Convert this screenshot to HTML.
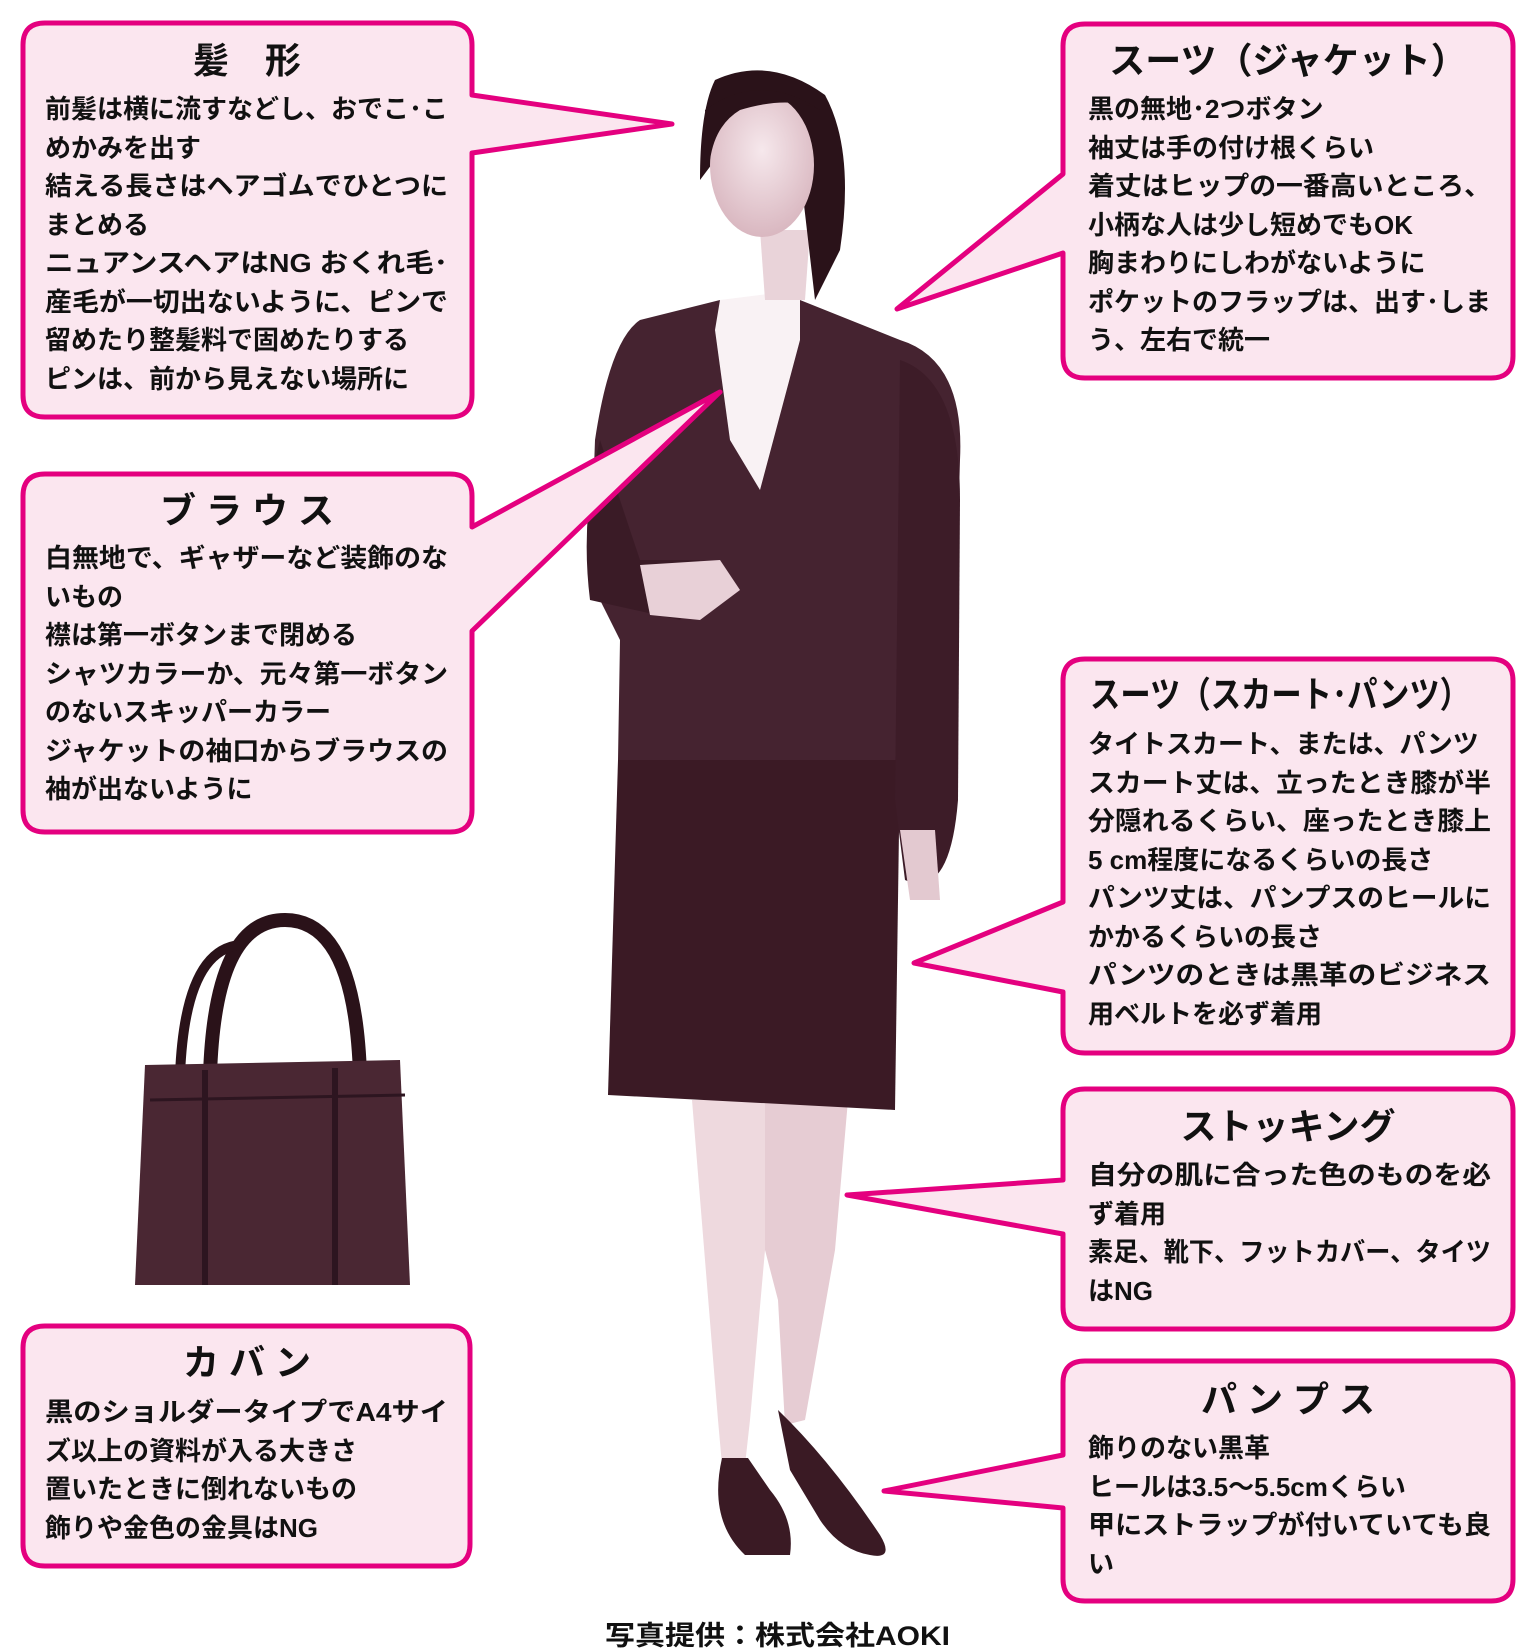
<!DOCTYPE html>
<html><head><meta charset="utf-8"><style>
html,body{margin:0;padding:0;background:#fff;}
svg{display:block;}
.b{fill:#fbe6ef;stroke:#e4007f;stroke-width:5;stroke-linejoin:round;}
.t{font-family:"Liberation Sans","Noto Sans CJK JP",sans-serif;font-weight:bold;fill:#111;}
.h{font-size:36px;}
.l{font-size:26px;}
</style></head><body>
<svg width="1530" height="1650" viewBox="0 0 1530 1650" xmlns="http://www.w3.org/2000/svg">
<defs>
<radialGradient id="sk" cx="50%" cy="40%" r="60%"><stop offset="0" stop-color="#f6e8ec"/><stop offset="1" stop-color="#d9b7c0"/></radialGradient>
</defs>
<!-- legs -->
<path d="M692 1100 L770 1100 L765 1250 L750 1420 L745 1465 L722 1465 L718 1420 L705 1260 Z" fill="#eed9de"/>
<path d="M765 1100 L848 1100 L835 1250 L805 1420 L785 1425 L778 1300 L765 1250 Z" fill="#e6ccd3"/>
<!-- shoes -->
<path d="M722 1458 Q708 1520 745 1555 L790 1555 Q795 1520 770 1490 L748 1458 Z" fill="#3a1a24"/>
<path d="M778 1410 Q830 1460 880 1535 Q895 1560 870 1555 Q840 1550 820 1520 L790 1470 Z" fill="#3a1a24"/>
<!-- skirt -->
<path d="M618 760 L900 760 L895 1110 L608 1095 Z" fill="#3b1a25"/>
<!-- jacket -->
<path d="M640 320 L720 300 L760 450 L800 300 L900 340 Q965 360 960 460 L950 800 L905 800 L900 760 L618 760 L620 640 L590 580 L595 440 Q610 340 640 320 Z" fill="#452330"/>
<path d="M600 440 Q580 520 590 600 L680 620 L700 560 L640 560 Z" fill="#3a1b26"/>
<path d="M640 565 L720 560 L740 590 L700 620 L650 615 Z" fill="#e8d0d7"/>
<path d="M900 360 Q960 380 960 500 L958 800 Q950 900 905 880 L895 800 Z" fill="#3d1c28"/>
<path d="M900 830 L935 830 L940 900 L910 900 Z" fill="#e3c9d0"/>
<!-- blouse -->
<path d="M720 300 L800 290 L800 340 L760 490 L730 440 L715 330 Z" fill="#f9f2f4"/>
<!-- neck & face -->
<path d="M760 230 L810 230 L805 300 L765 300 Z" fill="#e9d3d9"/>
<path d="M715 80 Q770 55 825 95 Q855 150 840 250 L815 300 L800 170 Q760 120 730 140 L700 180 Q700 110 715 80 Z" fill="#2a1219"/>
<ellipse cx="762" cy="165" rx="52" ry="72" fill="url(#sk)"/>
<path d="M705 110 Q760 70 820 110 Q790 95 740 110 Q715 125 710 160 Z" fill="#2a1219"/>
<!-- bag -->
<path d="M210 1075 Q215 920 285 920 Q355 920 360 1075" fill="none" stroke="#2a1219" stroke-width="14"/>
<path d="M180 1075 Q185 950 240 945" fill="none" stroke="#2a1219" stroke-width="10"/>
<path d="M145 1065 L400 1060 L410 1285 L135 1285 Z" fill="#4a2733"/>
<path d="M150 1100 L405 1095" stroke="#2d1520" stroke-width="3"/>
<path d="M205 1070 L205 1285 M335 1068 L335 1285" stroke="#2d1520" stroke-width="6"/>

<!-- boxes -->
<path class="b" d="M45 23 H450 Q472 23 472 45 V95 L672 124 L472 153 V395 Q472 417 450 417 H45 Q23 417 23 395 V45 Q23 23 45 23 Z"/>
<path class="b" d="M45 474 H450 Q472 474 472 496 V527 L720 392 L472 631 V810 Q472 832 450 832 H45 Q23 832 23 810 V496 Q23 474 45 474 Z"/>
<path class="b" d="M45 1326 H448 Q470 1326 470 1348 V1544 Q470 1566 448 1566 H45 Q23 1566 23 1544 V1348 Q23 1326 45 1326 Z"/>
<path class="b" d="M1085 24 H1491 Q1513 24 1513 46 V356 Q1513 378 1491 378 H1085 Q1063 378 1063 356 V253 L897 309 L1063 174 V46 Q1063 24 1085 24 Z"/>
<path class="b" d="M1085 659 H1491 Q1513 659 1513 681 V1031 Q1513 1053 1491 1053 H1085 Q1063 1053 1063 1031 V992 L914 963 L1063 902 V681 Q1063 659 1085 659 Z"/>
<path class="b" d="M1085 1089 H1491 Q1513 1089 1513 1111 V1307 Q1513 1329 1491 1329 H1085 Q1063 1329 1063 1307 V1234 L847 1195 L1063 1180 V1111 Q1063 1089 1085 1089 Z"/>
<path class="b" d="M1085 1361 H1491 Q1513 1361 1513 1383 V1579 Q1513 1601 1491 1601 H1085 Q1063 1601 1063 1579 V1508 L884 1491 L1063 1455 V1383 Q1063 1361 1085 1361 Z"/>

<g class="t">
<text class="h" x="247" y="73" text-anchor="middle">髪　形</text>
<g class="l">
<text x="45" y="118" textLength="403" lengthAdjust="spacingAndGlyphs">前髪は横に流すなどし、おでこ･こ</text>
<text x="45" y="157">めかみを出す</text>
<text x="45" y="195" textLength="403" lengthAdjust="spacingAndGlyphs">結える長さはヘアゴムでひとつに</text>
<text x="45" y="234">まとめる</text>
<text x="45" y="272" textLength="403" lengthAdjust="spacingAndGlyphs">ニュアンスヘアはNG おくれ毛･</text>
<text x="45" y="311" textLength="403" lengthAdjust="spacingAndGlyphs">産毛が一切出ないように、ピンで</text>
<text x="45" y="349">留めたり整髪料で固めたりする</text>
<text x="45" y="388">ピンは、前から見えない場所に</text>
</g>
<text class="h" x="247" y="523" text-anchor="middle">ブ ラ ウ ス</text>
<g class="l">
<text x="45" y="567" textLength="403" lengthAdjust="spacingAndGlyphs">白無地で、ギャザーなど装飾のな</text>
<text x="45" y="606">いもの</text>
<text x="45" y="644">襟は第一ボタンまで閉める</text>
<text x="45" y="683" textLength="403" lengthAdjust="spacingAndGlyphs">シャツカラーか、元々第一ボタン</text>
<text x="45" y="721">のないスキッパーカラー</text>
<text x="45" y="760" textLength="403" lengthAdjust="spacingAndGlyphs">ジャケットの袖口からブラウスの</text>
<text x="45" y="798">袖が出ないように</text>
</g>
<text class="h" x="247" y="1375" text-anchor="middle">カ バ ン</text>
<g class="l">
<text x="45" y="1421" textLength="403" lengthAdjust="spacingAndGlyphs">黒のショルダータイプでA4サイ</text>
<text x="45" y="1460">ズ以上の資料が入る大きさ</text>
<text x="45" y="1498">置いたときに倒れないもの</text>
<text x="45" y="1537">飾りや金色の金具はNG</text>
</g>
<text class="h" x="1288" y="73" text-anchor="middle">スーツ（ジャケット）</text>
<g class="l">
<text x="1088" y="118">黒の無地･2つボタン</text>
<text x="1088" y="157">袖丈は手の付け根くらい</text>
<text x="1088" y="195" textLength="403" lengthAdjust="spacingAndGlyphs">着丈はヒップの一番高いところ、</text>
<text x="1088" y="234">小柄な人は少し短めでもOK</text>
<text x="1088" y="272">胸まわりにしわがないように</text>
<text x="1088" y="311" textLength="403" lengthAdjust="spacingAndGlyphs">ポケットのフラップは、出す･しま</text>
<text x="1088" y="349">う、左右で統一</text>
</g>
<text class="h" x="1090" y="707" textLength="380" lengthAdjust="spacingAndGlyphs">スーツ（スカート･パンツ）</text>
<g class="l">
<text x="1088" y="753">タイトスカート、または、パンツ</text>
<text x="1088" y="792" textLength="403" lengthAdjust="spacingAndGlyphs">スカート丈は、立ったとき膝が半</text>
<text x="1088" y="830" textLength="403" lengthAdjust="spacingAndGlyphs">分隠れるくらい、座ったとき膝上</text>
<text x="1088" y="869">5 cm程度になるくらいの長さ</text>
<text x="1088" y="907" textLength="403" lengthAdjust="spacingAndGlyphs">パンツ丈は、パンプスのヒールに</text>
<text x="1088" y="946">かかるくらいの長さ</text>
<text x="1088" y="984" textLength="403" lengthAdjust="spacingAndGlyphs">パンツのときは黒革のビジネス</text>
<text x="1088" y="1023">用ベルトを必ず着用</text>
</g>
<text class="h" x="1288" y="1139" text-anchor="middle">ストッキング</text>
<g class="l">
<text x="1088" y="1184" textLength="403" lengthAdjust="spacingAndGlyphs">自分の肌に合った色のものを必</text>
<text x="1088" y="1223">ず着用</text>
<text x="1088" y="1261" textLength="403" lengthAdjust="spacingAndGlyphs">素足、靴下、フットカバー、タイツ</text>
<text x="1088" y="1300">はNG</text>
</g>
<text class="h" x="1288" y="1412" text-anchor="middle">パ ン プ ス</text>
<g class="l">
<text x="1088" y="1457">飾りのない黒革</text>
<text x="1088" y="1496">ヒールは3.5～5.5cmくらい</text>
<text x="1088" y="1534" textLength="403" lengthAdjust="spacingAndGlyphs">甲にストラップが付いていても良</text>
<text x="1088" y="1573">い</text>
</g>
<text x="605" y="1645" style="font-size:27px" textLength="345" lengthAdjust="spacingAndGlyphs">写真提供：株式会社AOKI</text>
</g>
</svg>
</body></html>
